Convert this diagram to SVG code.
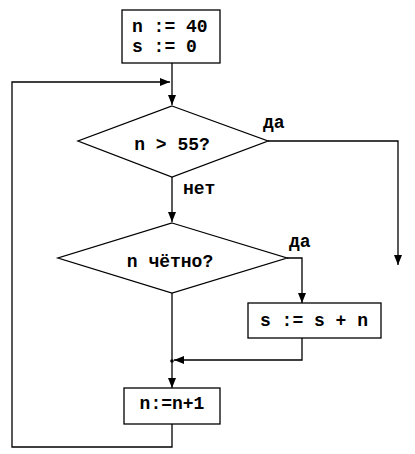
<svg xmlns="http://www.w3.org/2000/svg" width="415" height="454" viewBox="0 0 415 454">
<style>
.s{fill:#fff;stroke:#000;stroke-width:1.3}
.t{font-family:"Liberation Mono","Courier New",monospace;font-weight:bold;font-size:18px;fill:#000}
.c{fill:none;stroke:#000;stroke-width:1.3}
</style>
<defs>
<marker id="a" markerWidth="10" markerHeight="8" refX="10" refY="4" orient="auto" markerUnits="userSpaceOnUse">
<path d="M0,0 L10,4 L0,8 Z" fill="#000"/>
</marker>
</defs>
<rect width="415" height="454" fill="#fff"/>
<g id="connectors">
<path class="c" d="M172,63 V105" marker-end="url(#a)"/>
<path class="c" d="M172,424 V447 H12 V82 H170" marker-end="url(#a)"/>
<path class="c" d="M268,141 H398 V265" marker-end="url(#a)"/>
<path class="c" d="M172,177 V222" marker-end="url(#a)"/>
<path class="c" d="M287,258 H302 V303" marker-end="url(#a)"/>
<path class="c" d="M302,338 V360 H174" marker-end="url(#a)"/>
<path class="c" d="M172,293 V388" marker-end="url(#a)"/>
<circle cx="172" cy="361" r="1.8" fill="#000"/>
</g>
<g id="init">
<rect class="s" x="122" y="10" width="98" height="53"/>
<text class="t" x="132" y="32">n := 40</text>
<text class="t" x="132" y="52">s := 0</text>
</g>
<g id="cond1">
<polygon class="s" points="172,106 268,141 172,177 78,141"/>
<text class="t" x="172" y="150" text-anchor="middle">n &gt; 55?</text>
<text class="t" x="263" y="128">да</text>
<text class="t" x="183" y="194">нет</text>
</g>
<g id="cond2">
<polygon class="s" points="172,223 287,258 172,293 58,258"/>
<text class="t" x="170" y="267" text-anchor="middle">n чётно?</text>
<text class="t" x="289" y="247">да</text>
</g>
<g id="add">
<rect class="s" x="248" y="303" width="133" height="35"/>
<text class="t" x="314" y="326" text-anchor="middle">s := s + n</text>
</g>
<g id="inc">
<rect class="s" x="124" y="388" width="96" height="36"/>
<text class="t" x="172" y="409" text-anchor="middle">n:=n+1</text>
</g>
</svg>
